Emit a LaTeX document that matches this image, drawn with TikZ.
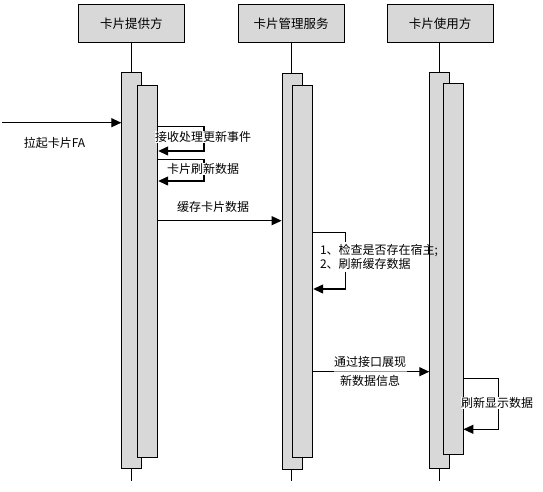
\documentclass[tikz,border=0pt]{standalone}
\usepackage{fontspec}
\setmainfont{Liberation Sans}
\newfontfamily\cjk{Noto Sans CJK SC}
\usetikzlibrary{arrows.meta}
\definecolor{bargrey}{RGB}{216,216,216}
\tikzset{
  lbl/.style={font=\cjk\fontsize{12}{14}\selectfont, inner sep=0.5pt},
  wlbl/.style={lbl, fill=white},
  headbox/.style={draw, line width=0.9pt, fill=bargrey, minimum width=106pt, minimum height=38pt, inner sep=0pt, font=\cjk\fontsize{12.5}{14}\selectfont},
  actbar/.style={draw, line width=0.9pt, fill=bargrey, anchor=north west, inner sep=0pt, minimum width=20pt},
  life/.style={line width=0.9pt},
  msg/.style={line width=1.2pt, -{Triangle[length=10pt,width=9pt]}},
}
\begin{document}
\begin{tikzpicture}[x=1pt,y=-1pt]
\useasboundingbox (0,0) rectangle (543,492);
% participants
\node[headbox] (p1) at (131.4,23.3) {卡片提供方};
\node[headbox] (p2) at (291.0,23.3) {卡片管理服务};
\node[headbox] (p3) at (440.0,23.3) {卡片使用方};
% lifeline ends
\coordinate (e1) at (131.4,481);
\coordinate (e2) at (291.6,481);
\coordinate (e3) at (439.3,481);
\draw[life] (p1.south) -- (e1);
\draw[life] (p2.south -| e2) -- (e2);
\draw[life] (p3.south -| e3) -- (e3);
% activation bars
\node[actbar, minimum height=396.3pt] (b1o) at (121.3,72) {};
\node[actbar, minimum height=372.3pt] (b1i) at (137.3,85) {};
\node[actbar, minimum height=396pt] (b2o) at (281.6,73.3) {};
\node[actbar, minimum height=372.3pt] (b2i) at (292.3,85) {};
\node[actbar, minimum height=395.4pt] (b3o) at (429.3,72.3) {};
\node[actbar, minimum height=370.4pt] (b3i) at (442.5,83.3) {};
% entry message
\coordinate (s0) at (2,122.7);
\draw[msg] (s0) -- (s0 -| b1o.west);
\node[lbl] (l0) at (54.5,143.3) {拉起卡片FA};
% self loop 1
\coordinate (a1) at (204,126.7);
\coordinate (a2) at (204,151);
\draw[msg] (a1 -| b1i.east) -- (a1) -- (a2) -- (a2 -| b1i.east);
\node[wlbl] (l1) at (203,136.7) {接收处理更新事件};
% self loop 2
\coordinate (c1) at (204,159.3);
\coordinate (c2) at (204,181);
\draw[msg] (c1 -| b1i.east) -- (c1) -- (c2) -- (c2 -| b1i.east);
\node[wlbl] (l2) at (203,169) {卡片刷新数据};
% cache message
\coordinate (m1) at (200,220.7);
\draw[msg] (m1 -| b1i.east) -- (m1 -| b2o.west);
\node[lbl] (l3) at (213,206.7) {缓存卡片数据};
% self loop 3 (management)
\coordinate (d1) at (345.7,232.7);
\coordinate (d2) at (345.7,289);
\coordinate (d1g) at (345.7,242);
\coordinate (d2g) at (345.7,272);
\draw[line width=1.2pt] (d1 -| b2i.east) -- (d1) -- (d1g);
\draw[msg] (d2g) -- (d2) -- (d2 -| b2i.east);
\node[lbl, anchor=west, align=left] (l4) at (319.3,257.2) {1、检查是否存在宿主;\\[0.3pt]2、刷新缓存数据};
% show message
\coordinate (m2) at (370,371.7);
\draw[msg] (m2 -| b2i.east) -- (m2 -| b3o.west);
\node[lbl, fill=white, fill opacity=0.6, text opacity=1, align=center, font=\cjk\fontsize{12}{19.3}\selectfont] (l5) at (370,371.4) {通过接口展现\\新数据信息};
% self loop 4 (user)
\coordinate (f1) at (498.3,378.3);
\coordinate (f2) at (498.3,429.3);
\draw[msg] (f1 -| b3i.east) -- (f1) -- (f2) -- (f2 -| b3i.east);
\node[wlbl] (l6) at (497,403.3) {刷新显示数据};
\end{tikzpicture}
\end{document}
